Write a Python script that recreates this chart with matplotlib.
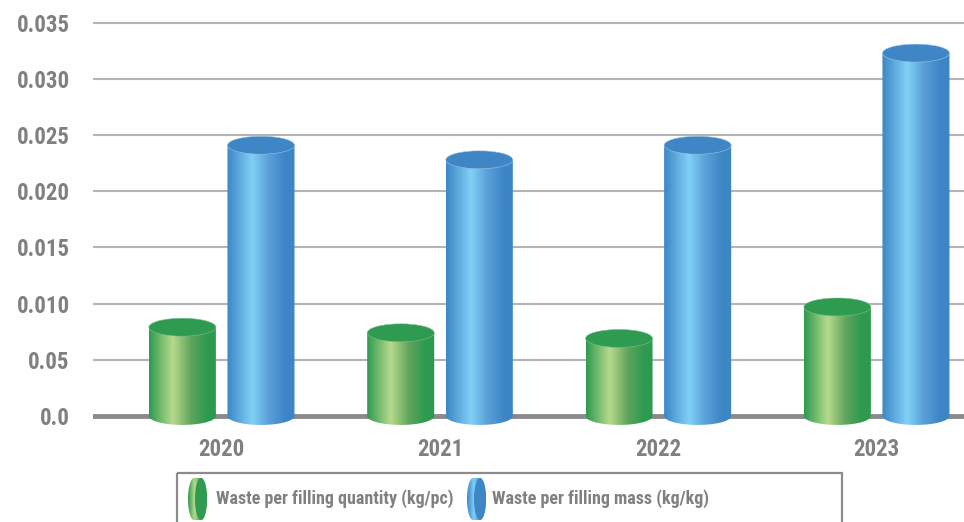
import numpy as np
import matplotlib
matplotlib.use("Agg")
import matplotlib.pyplot as plt
from matplotlib.colors import LinearSegmentedColormap
from matplotlib.patches import Polygon, Ellipse, Rectangle
from matplotlib import font_manager

# Datos
years = ["2020", "2021", "2022", "2023"]
qty = [0.0079, 0.0074, 0.0069, 0.0097]     # kg/pc
mass = [0.0241, 0.0228, 0.0241, 0.0323]    # kg/kg
yticks = [0.0, 0.005, 0.010, 0.015, 0.020, 0.025, 0.030, 0.035]
ytick_labels = ["0.0", "0.05", "0.010", "0.015", "0.020", "0.025", "0.030", "0.035"]
series_names = ["Waste per filling quantity (kg/pc)", "Waste per filling mass (kg/kg)"]

# Roboto Condensed Bold si está instalada
fp = font_manager.FontProperties(family="Roboto", weight="bold")
files = [f for f in font_manager.findSystemFonts()
         if "robotocondensed" in f.lower().replace("_", "").replace("-", "").replace(" ", "")
         and "italic" not in f.lower()]
hits = sorted(f for f in files
              if "bold" in f.lower().split("/")[-1]
              and "semibold" not in f.lower() and "extrabold" not in f.lower())
if hits:
    fp = font_manager.FontProperties(fname=hits[0])

green_cmap = LinearSegmentedColormap.from_list(
    "g", [(0, "#2e9a50"), (0.35, "#b6da8c"), (0.62, "#5fa45c"), (0.85, "#2e9a50"), (1, "#2e9a50")])
blue_cmap = LinearSegmentedColormap.from_list(
    "b", [(0, "#3d86c6"), (0.37, "#80d0f6"), (0.6, "#5ba2da"), (0.85, "#3e86c6"), (1, "#3d86c6")])
top_colors = ["#2e9b50", "#3f86c6"]
cmaps = [green_cmap, blue_cmap]
grad = np.linspace(0, 1, 256).reshape(1, -1)

fig = plt.figure(figsize=(9.64, 5.22), dpi=100)
ax = fig.add_axes([93.3 / 964, (522 - 432) / 522, 1 - 93.3 / 964, 432 / 522])

width = 0.307
offset = 0.18
ry = 0.0008  # half height of the ellipses, in data units


def cylinder(ax, xc, h, cmap, top_color):
    x0, x1 = xc - width / 2, xc + width / 2
    t = np.linspace(np.pi, 2 * np.pi, 80)
    outline = [(x0, h)] + list(zip(xc + width / 2 * np.cos(t), ry * np.sin(t))) + [(x1, h)]
    body = Polygon(outline, closed=True, facecolor="none", edgecolor="none")
    ax.add_patch(body)
    im = ax.imshow(grad, extent=(x0, x1, -ry, h), aspect="auto", cmap=cmap,
                   origin="lower", zorder=3, interpolation="bilinear")
    im.set_clip_path(body)
    ax.add_patch(Ellipse((xc, h), width, 2 * ry, facecolor=top_color,
                         edgecolor="#9fc4e0" if cmap is blue_cmap else "#7fbf8f",
                         linewidth=0.4, zorder=4))


x = np.arange(len(years))
for i, series in enumerate([qty, mass]):
    for xi, v in zip(x, series):
        cylinder(ax, xi + (2 * i - 1) * offset, v, cmaps[i], top_colors[i])

for yv in yticks[1:]:
    ax.axhline(yv, color="#b4b4b4", linewidth=1.5, zorder=1)
ax.axhline(0, color="#8a8a8c", linewidth=3.5, zorder=2)

ax.set_xlim(-0.588, 3.40)
ax.set_ylim(-(432 - 416) / 56 * 0.005, 0.035 + 22.7 / 56 * 0.005)
ax.set_yticks(yticks)
ax.set_yticklabels(ytick_labels, fontproperties=fp, fontsize=16.5)
ax.set_xticks(x)
ax.set_xticklabels(years, fontproperties=fp, fontsize=16.5)
ax.tick_params(axis="both", length=0, labelcolor="#808080")
ax.tick_params(axis="y", pad=17)
ax.tick_params(axis="x", pad=4)
for s in ax.spines.values():
    s.set_visible(False)

# Leyenda
lax = fig.add_axes([0, 0, 1, 1])
lax.set_xlim(0, 964)
lax.set_ylim(522, 0)
lax.axis("off")
lax.add_patch(Rectangle((177, 473), 842 - 177, 60, facecolor="none",
                        edgecolor="#8c8c8c", linewidth=1.6, clip_on=False))

icons = [(188, 216), (467, 492)]
for (ix, tx), cmap, tc, name in zip(icons, cmaps, top_colors, series_names):
    w, cy, hh = 19, 499, 21
    rx = 6
    t = np.linspace(np.pi / 2, 3 * np.pi / 2, 40)
    pts = list(zip(ix + rx + rx * np.cos(t), cy + hh * np.sin(t)))
    t2 = np.linspace(3 * np.pi / 2, 5 * np.pi / 2, 40)
    pts += list(zip(ix + w - rx + rx * np.cos(t2), cy + hh * np.sin(t2)))
    cap = Polygon(pts, closed=True, facecolor="none", edgecolor="none")
    lax.add_patch(cap)
    im = lax.imshow(grad, extent=(ix, ix + w, cy + hh, cy - hh), aspect="auto",
                    cmap=cmap, zorder=3, interpolation="bilinear")
    im.set_clip_path(cap)
    lax.add_patch(Ellipse((ix + w - rx, cy), 2 * rx, 2 * hh, facecolor=tc, zorder=4))
    lax.text(tx, cy, name, ha="left", va="center", fontproperties=fp,
             fontsize=13, color="#808080")
lax.set_xlim(0, 964)
lax.set_ylim(522, 0)

fig.savefig("out.png", dpi=100)
